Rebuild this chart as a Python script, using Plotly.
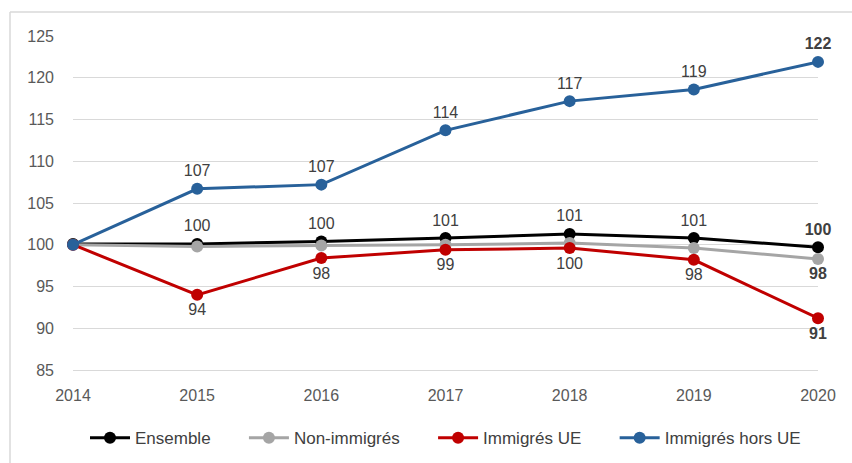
import plotly.graph_objects as go

years = [2014, 2015, 2016, 2017, 2018, 2019, 2020]
ensemble = [100.1, 100.1, 100.4, 100.8, 101.3, 100.8, 99.7]
non_immigres = [100.0, 99.8, 99.9, 100.0, 100.2, 99.6, 98.3]
immigres_ue = [100.0, 94.0, 98.4, 99.4, 99.6, 98.2, 91.2]
immigres_hors_ue = [100.0, 106.7, 107.2, 113.7, 117.2, 118.6, 121.9]

names = ["Ensemble", "Non-immigrés", "Immigrés UE", "Immigrés hors UE"]
colors = ["#000000", "#a5a5a5", "#c00000", "#28619a"]
series = [ensemble, non_immigres, immigres_ue, immigres_hors_ue]
label_pos = ["top center", "bottom center", "bottom center", "top center"]
show_labels = [True, False, True, True]

FONT = "Liberation Sans, sans-serif"
PAD = "\u00a0" * 6

fig = go.Figure()
for k, (name, col, vals, pos, show) in enumerate(zip(names, colors, series, label_pos, show_labels)):
    texts = []
    for i, v in enumerate(vals):
        if i == 0:
            texts.append("")
        elif i == len(vals) - 1:
            texts.append("<b>%d</b>" % round(v))
        elif show:
            texts.append("%d" % round(v))
        else:
            texts.append("")
    fig.add_trace(go.Scatter(
        x=years, y=vals, name=name + (PAD if k < len(names) - 1 else ""),
        mode="lines+markers+text",
        line=dict(color=col, width=3),
        marker=dict(color=col, size=12),
        text=texts, textposition=pos,
        textfont=dict(size=16, color="#404040", family=FONT),
        cliponaxis=False,
    ))

fig.update_layout(
    width=852, height=463,
    margin=dict(l=73, r=34, t=36, b=93, autoexpand=False),
    paper_bgcolor="white", plot_bgcolor="white",
    font=dict(family=FONT, color="#595959", size=16),
    showlegend=True,
    legend=dict(orientation="h", x=0.5, xanchor="center", y=-0.204, yanchor="middle",
                font=dict(size=17, color="#404040", family=FONT), itemwidth=40,
                traceorder="normal"),
    xaxis=dict(range=[2014, 2020], tickmode="array", tickvals=years,
               ticktext=[str(y) for y in years], showgrid=False, zeroline=False,
               showline=True, linecolor="#d9d9d9", linewidth=1, ticks="",
               ticklabelstandoff=11, automargin=False,
               tickfont=dict(size=16, color="#595959")),
    yaxis=dict(range=[85, 125], dtick=5, tick0=85, showgrid=True, gridcolor="#d9d9d9",
               gridwidth=1, zeroline=False, showline=False, ticks="",
               ticklabelstandoff=18, automargin=False,
               tickfont=dict(size=16, color="#595959")),
    shapes=[
        dict(type="line", xref="paper", yref="paper",
             x0=(10 - 73) / 745, x1=(852 - 73) / 745 + 0.1,
             y0=(370 - 12) / 334, y1=(370 - 12) / 334,
             line=dict(color="#d9d9d9", width=1.5)),
        dict(type="line", xref="paper", yref="paper",
             x0=(10 - 73) / 745, x1=(10 - 73) / 745,
             y0=(370 - 12) / 334, y1=-0.4,
             line=dict(color="#d9d9d9", width=1.5)),
    ],
)

fig.write_html("out.html", config={"displayModeBar": False},
               post_script="document.body.style.margin='0';")
